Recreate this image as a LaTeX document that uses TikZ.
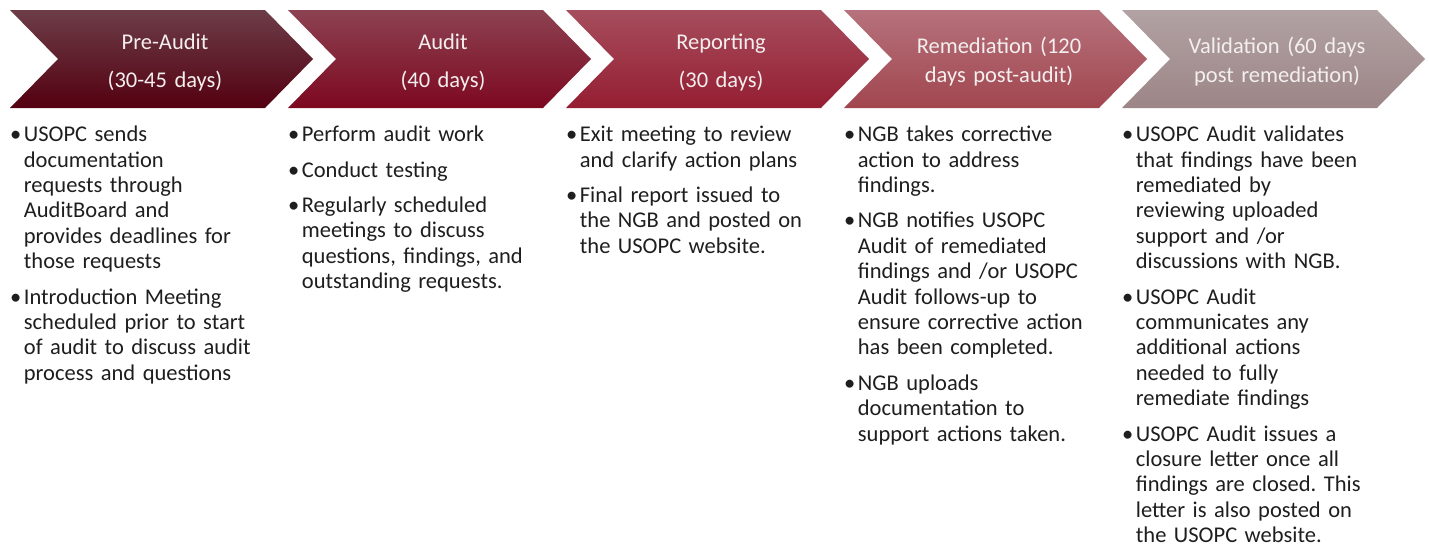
\documentclass[tikz,border=0pt]{standalone}
\usepackage{fontspec}
\setmainfont{Carlito}
\frenchspacing

% chevron gradients: t = top, m = middle, b = bottom
\definecolor{c1t}{HTML}{6C3D48}\definecolor{c1m}{HTML}{5B0717}\definecolor{c1b}{HTML}{540010}
\definecolor{c2t}{HTML}{8C4252}\definecolor{c2m}{HTML}{830D26}\definecolor{c2b}{HTML}{7D0820}
\definecolor{c3t}{HTML}{A64E5D}\definecolor{c3m}{HTML}{9E2439}\definecolor{c3b}{HTML}{951D32}
\definecolor{c4t}{HTML}{B6727C}\definecolor{c4m}{HTML}{AA5662}\definecolor{c4b}{HTML}{A1464F}
\definecolor{c5t}{HTML}{B2A2A3}\definecolor{c5m}{HTML}{A89597}\definecolor{c5b}{HTML}{9C8587}
\definecolor{hdrtext}{HTML}{F4EFEF}
\definecolor{bodytext}{HTML}{1E1E1E}

% bullet items with a hanging indent
\newlength{\bulind}\setlength{\bulind}{13.7pt}
\newcommand{\itm}{\par\noindent\hangindent=\bulind\makebox[\bulind][l]{\textbullet}}
\newcommand{\itmsp}{\par\vspace{10pt}\itm}
\newcommand{\firstline}{\rule{0pt}{17pt}}

\tikzset{
  hdr/.style={text=hdrtext, align=center, text width=250pt, inner sep=0pt},
  hdrwide/.style={hdr, font=\fontsize{22.5}{38}\selectfont},
  hdrtight/.style={hdr, font=\fontsize{22.5}{29}\selectfont},
  body/.style={text=bodytext, align=left, text width=275pt, inner sep=0pt,
    anchor=north west, font=\fontsize{22.5}{25.4}\selectfont},
}

\begin{document}
\begin{tikzpicture}[x=1pt, y=-1pt]
\useasboundingbox (0,0) rectangle (1429,544);

% phase chevrons
\foreach \i/\x in {1/10, 2/288, 3/566, 4/844, 5/1122} {
  \shade[top color=c\i t, middle color=c\i m, bottom color=c\i b]
    (\x,10) -- ++(255,0) -- ++(48,49) -- ++(-48,49) -- ++(-255,0) -- ++(48,-49) -- cycle;
}

% phase titles
\node[hdrwide] (h1) at (165,62.5) {\rule{0pt}{16pt}Pre-Audit\\\rule[-5pt]{0pt}{5pt}(30-45 days)};
\node[hdrwide] (h2) at (443,62.5) {\rule{0pt}{16pt}Audit\\\rule[-5pt]{0pt}{5pt}(40 days)};
\node[hdrwide] (h3) at (721,62.5) {\rule{0pt}{16pt}Reporting\\\rule[-5pt]{0pt}{5pt}(30 days)};
\node[hdrtight] (h4) at (999,62) {\rule{0pt}{16pt}Remediation (120\\\rule[-5pt]{0pt}{5pt}days post-audit)};
\node[hdrtight] (h5) at (1277,62) {\rule{0pt}{16pt}Validation (60 days\\\rule[-5pt]{0pt}{5pt}post remediation)};

% phase activities
\node[body] (b1) at (10,116) {\parskip=0pt\parindent=0pt
  \itm\firstline USOPC sends\newline documentation\newline requests through\newline AuditBoard and\newline provides deadlines for\newline those requests
  \itmsp Introduction Meeting\newline scheduled prior to start\newline of audit to discuss audit\newline process and questions\par};

\node[body] (b2) at (288,116) {\parskip=0pt\parindent=0pt
  \itm\firstline Perform audit work
  \itmsp Conduct testing
  \itmsp Regularly scheduled\newline meetings to discuss\newline questions, findings, and\newline outstanding requests.\par};

\node[body] (b3) at (566,116) {\parskip=0pt\parindent=0pt
  \itm\firstline Exit meeting to review\newline and clarify action plans
  \itmsp Final report issued to\newline the NGB and posted on\newline the USOPC website.\par};

\node[body] (b4) at (844,116) {\parskip=0pt\parindent=0pt
  \itm\firstline NGB takes corrective\newline action to address\newline findings.
  \itmsp NGB notifies USOPC\newline Audit of remediated\newline findings and /or USOPC\newline Audit follows-up to\newline ensure corrective action\newline has been completed.
  \itmsp NGB uploads\newline documentation to\newline support actions taken.\par};

\node[body] (b5) at (1122,116) {\parskip=0pt\parindent=0pt
  \itm\firstline USOPC Audit validates\newline that findings have been\newline remediated by\newline reviewing uploaded\newline support and /or\newline discussions with NGB.
  \itmsp USOPC Audit\newline communicates any\newline additional actions\newline needed to fully\newline remediate findings
  \itmsp USOPC Audit issues a\newline closure letter once all\newline findings are closed. This\newline letter is also posted on\newline the USOPC website.\par};
\end{tikzpicture}
\end{document}
